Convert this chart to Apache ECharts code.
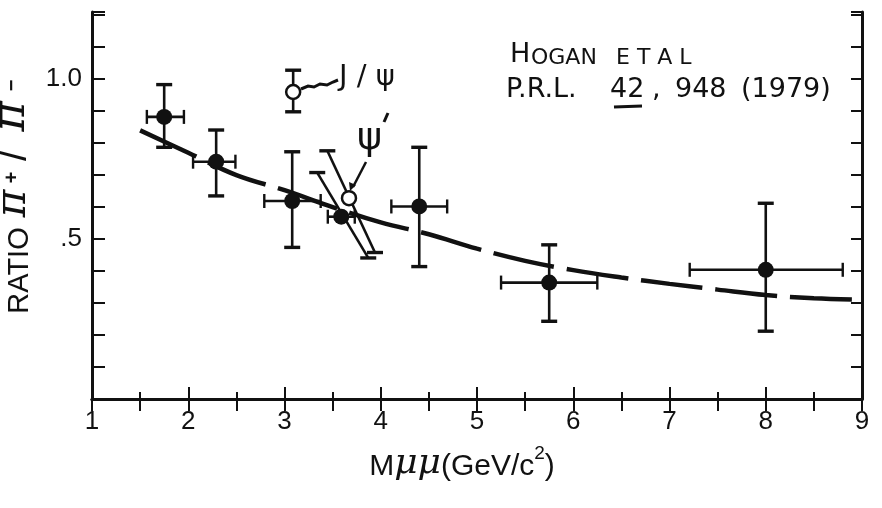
<!DOCTYPE html>
<html>
<head>
<meta charset="utf-8">
<script src="https://cdn.jsdelivr.net/npm/echarts@6/dist/echarts.min.js"></script>
<style>
html, body { margin: 0; padding: 0; background: #fff; }
#chart { width: 882px; height: 508px; }
</style>
</head>
<body>
<div id="chart"></div>
<script>
// Data (M_mumu in GeV/c^2, ratio pi+/pi-)
const massX = [1.75, 2.29, 3.08, 3.59, 4.40, 5.75, 8.00];
const ratioY = [0.882, 0.742, 0.619, 0.570, 0.602, 0.364, 0.404];
const massLo = [1.57, 2.05, 2.79, 3.45, 4.11, 5.25, 7.21];
const massHi = [1.955, 2.49, 3.376, 3.73, 4.69, 6.25, 8.80];
const ratioLo = [0.787, 0.635, 0.474, null, 0.414, 0.243, 0.212];
const ratioHi = [0.983, 0.841, 0.773, null, 0.787, 0.482, 0.612];

// slanted error bars (top end x, y, bottom end x, y)
const slantBars = [
  [3.34, 0.708, 3.87, 0.441],
  [3.445, 0.776, 3.94, 0.458]
];

// resonance regions, open circles
const resX = [3.09, 3.67];
const resY = [0.960, 0.628];
const resLo = [0.898, null];
const resHi = [1.028, null];

// fitted curve
const curveX = [1.5, 2.0, 2.5, 3.0, 3.5, 4.0, 4.5, 5.0, 5.5, 6.0, 6.5, 7.0, 7.5, 8.0, 8.5, 9.0];
const curveY = [0.84, 0.77, 0.70, 0.653, 0.60, 0.552, 0.515, 0.47, 0.432, 0.403, 0.38, 0.36, 0.342, 0.325, 0.315, 0.31];

const chart = echarts.init(document.getElementById('chart'));
const ink = '#111';

const seg = (a, b, w) => ({
  type: 'line',
  shape: { x1: a[0], y1: a[1], x2: b[0], y2: b[1] },
  style: { stroke: ink, lineWidth: w }
});
const bad = (v) => v == null || isNaN(v);

function renderErr(params, api) {
  const x = api.value(0), y = api.value(1);
  const xlo = api.value(2), xhi = api.value(3), ylo = api.value(4), yhi = api.value(5);
  const kids = [];
  if (!bad(xlo)) {
    const a = api.coord([xlo, y]), b = api.coord([xhi, y]);
    kids.push(seg(a, b, 2.6));
    kids.push(seg([a[0], a[1] - 7], [a[0], a[1] + 7], 2.4));
    kids.push(seg([b[0], b[1] - 7], [b[0], b[1] + 7], 2.4));
  }
  if (!bad(ylo)) {
    const a = api.coord([x, ylo]), b = api.coord([x, yhi]);
    kids.push(seg(a, b, 2.6));
    kids.push(seg([a[0] - 8, a[1]], [a[0] + 8, a[1]], 3.4));
    kids.push(seg([b[0] - 8, b[1]], [b[0] + 8, b[1]], 3.4));
  }
  return { type: 'group', children: kids };
}

function renderSlant(params, api) {
  const a = api.coord([api.value(0), api.value(1)]);
  const b = api.coord([api.value(2), api.value(3)]);
  return {
    type: 'group',
    children: [
      seg(a, b, 2.6),
      seg([a[0] - 8, a[1]], [a[0] + 8, a[1]], 3.4),
      seg([b[0] - 8, b[1]], [b[0] + 8, b[1]], 3.4)
    ]
  };
}

const errData = massX.map((x, i) => [x, ratioY[i], massLo[i], massHi[i], ratioLo[i], ratioHi[i]]);
const resErr = resX.map((x, i) => [x, resY[i], null, null, resLo[i], resHi[i]]);

const axisLine = { show: true, lineStyle: { color: ink, width: 3 } };
const tickStyle = { color: ink, width: 2 };
const labelFont = { color: ink, fontSize: 26, fontFamily: 'Liberation Sans' };

const handText = (left, top, text, size) => ({
  type: 'text', left, top, z: 10,
  style: { text, fontSize: size, fontFamily: 'DejaVu Sans', fill: ink }
});

const option = {
  animation: false,
  backgroundColor: '#fff',
  grid: { left: 92, right: 20, top: 12, bottom: 109, outerBoundsMode: 'none', containLabel: false },
  xAxis: [
    {
      type: 'value', min: 1, max: 9, interval: 1, position: 'bottom',
      axisLine,
      axisTick: { inside: true, length: 12, lineStyle: tickStyle },
      minorTick: { show: true, splitNumber: 2, length: 7, lineStyle: tickStyle },
      axisLabel: { ...labelFont, margin: 10 },
      splitLine: { show: false },
      name: '{a|M}{m|μμ}{a|(GeV/c}{s|2}{a|)}',
      nameLocation: 'middle',
      nameGap: 45,
      nameTextStyle: {
        padding: [0, 30, 0, 0],
        rich: {
          a: { fontSize: 30, fontFamily: 'Liberation Sans', color: ink, verticalAlign: 'bottom', lineHeight: 38 },
          m: { fontSize: 36, fontFamily: 'DejaVu Serif', fontStyle: 'italic', color: ink, verticalAlign: 'bottom', lineHeight: 38 },
          s: { fontSize: 19, fontFamily: 'Liberation Sans', color: ink, verticalAlign: 'top', lineHeight: 38 }
        }
      }
    },
    {
      type: 'value', min: 1, max: 9, interval: 0.5, position: 'top',
      axisLine,
      axisTick: { inside: true, length: 12, lineStyle: tickStyle },
      axisLabel: { show: false },
      splitLine: { show: false }
    }
  ],
  yAxis: [
    {
      type: 'value', min: 0, max: 1.21, interval: 0.1, position: 'left',
      axisLine,
      axisTick: { inside: true, length: 13, lineStyle: tickStyle },
      axisLabel: {
        ...labelFont, margin: 10,
        formatter: (v) => Math.abs(v - 1) < 1e-6 ? '1.0' : (Math.abs(v - 0.5) < 1e-6 ? '.5' : '')
      },
      splitLine: { show: false },
      name: '{a|RATIO}{p|π}{s|+}{k|/}{q|π}{s|−}',
      nameLocation: 'middle',
      nameRotate: 90,
      nameGap: 52,
      nameTextStyle: {
        padding: [0, 0, 0, 14],
        rich: {
          a: { fontSize: 29, fontFamily: 'Liberation Sans', color: ink, verticalAlign: 'bottom', lineHeight: 32, width: 96 },
          p: { fontSize: 42, fontFamily: 'DejaVu Serif', fontStyle: 'italic', color: ink, verticalAlign: 'bottom', lineHeight: 32, width: 38, align: 'center' },
          q: { fontSize: 46, fontFamily: 'DejaVu Serif', fontStyle: 'italic', color: ink, verticalAlign: 'bottom', lineHeight: 32, width: 48, align: 'center' },
          k: { fontSize: 40, fontFamily: 'Liberation Sans', color: ink, verticalAlign: 'bottom', lineHeight: 32, width: 30, align: 'center' },
          s: { fontSize: 20, fontFamily: 'Liberation Sans', fontWeight: 'bold', color: ink, verticalAlign: 'top', lineHeight: 32, width: 14, align: 'center' }
        }
      }
    },
    {
      type: 'value', min: 0, max: 1.21, interval: 0.1, position: 'right',
      axisLine,
      axisTick: { inside: true, length: 11, lineStyle: tickStyle },
      axisLabel: { show: false },
      splitLine: { show: false }
    }
  ],
  series: [
    {
      type: 'line', smooth: 0.4, symbol: 'none', z: 2,
      data: curveX.map((x, i) => [x, curveY[i]]),
      lineStyle: { color: ink, width: 4.5, type: [62, 13] }
    },
    {
      type: 'custom', z: 3, renderItem: renderErr,
      encode: { x: 0, y: 1 }, data: errData.concat(resErr)
    },
    {
      type: 'custom', z: 3, renderItem: renderSlant,
      encode: { x: [0, 2], y: [1, 3] }, data: slantBars
    },
    {
      type: 'scatter', z: 4, symbolSize: 16,
      itemStyle: { color: ink, opacity: 1 },
      data: massX.map((x, i) => [x, ratioY[i]])
    },
    {
      type: 'scatter', z: 5, symbolSize: 14,
      itemStyle: { color: '#fff', borderColor: ink, borderWidth: 2.5, opacity: 1 },
      data: resX.map((x, i) => [x, resY[i]])
    }
  ],
  graphic: [
    handText(510, 41, 'H', 27),
    handText(531, 47, 'OGAN', 22),
    handText(616, 47, 'E T A L', 22),
    handText(506, 76, 'P.R.L.', 27),
    handText(610, 76, '42', 27),
    handText(652, 76, ',', 27),
    handText(675, 76, '948', 27),
    handText(741, 76, '(1979)', 27),
    { type: 'line', z: 10, shape: { x1: 614, y1: 107, x2: 642, y2: 106 }, style: { stroke: ink, lineWidth: 3 } },
    handText(339, 63, 'J / ψ', 29),
    {
      type: 'polyline', z: 10,
      shape: { points: [[301, 89], [308, 86], [314, 87], [320, 84], [327, 85], [333, 82], [338, 80]] },
      style: { stroke: ink, lineWidth: 3, fill: null }
    },
    handText(357, 120, 'ψ', 38),
    { type: 'line', z: 10, shape: { x1: 384, y1: 122, x2: 388, y2: 113 }, style: { stroke: ink, lineWidth: 3 } },
    { type: 'line', z: 10, shape: { x1: 366, y1: 162, x2: 353, y2: 187 }, style: { stroke: ink, lineWidth: 2.5 } },
    { type: 'polygon', z: 10, shape: { points: [[350, 191], [349, 182], [356, 185]] }, style: { fill: ink } }
  ]
};

chart.setOption(option);
</script>
</body>
</html>
